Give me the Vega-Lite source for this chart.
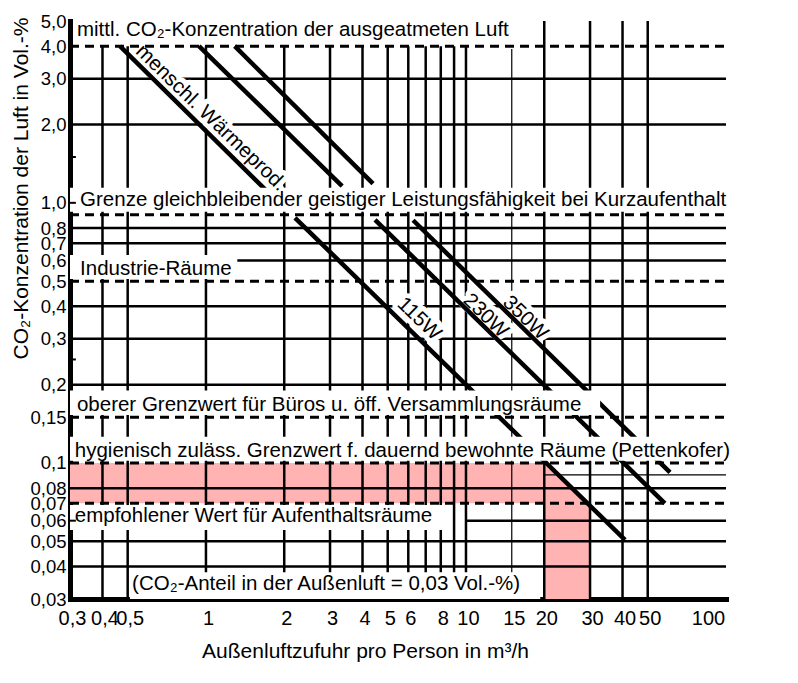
{
  "$schema": "https://vega.github.io/schema/vega-lite/v6.json",
  "width": 656,
  "height": 578,
  "autosize": {"type": "none"},
  "padding": {"left": 70, "top": 21, "right": 72, "bottom": 84},
  "background": "white",
  "config": {
    "view": {"stroke": null},
    "axis": {"domainCap": "square", "domainColor": "black", "labelColor": "black", "titleColor": "black", "zindex": 1}
  },
  "datasets": {
    "pinkRects": [
      {"x": 0.3, "x2": 20, "y": 0.07, "y2": 0.1},
      {"x": 20, "x2": 30, "y": 0.03, "y2": 0.07}
    ],
    "pinkTri": [
      {"x": 20, "y": 0.1, "y2": 0.066},
      {"x": 30, "y": 0.069, "y2": 0.066}
    ],
    "hgrid": [
      {"y": 3, "x": 0.3, "x2": 100},
      {"y": 2, "x": 0.3, "x2": 100},
      {"y": 0.8, "x": 0.3, "x2": 100},
      {"y": 0.7, "x": 0.3, "x2": 100},
      {"y": 0.6, "x": 0.3, "x2": 100},
      {"y": 0.4, "x": 0.3, "x2": 100},
      {"y": 0.3, "x": 0.3, "x2": 100},
      {"y": 0.2, "x": 0.3, "x2": 100},
      {"y": 0.08, "x": 0.3, "x2": 100},
      {"y": 0.06, "x": 10, "x2": 100},
      {"y": 0.05, "x": 0.3, "x2": 100},
      {"y": 0.04, "x": 0.3, "x2": 100}
    ],
    "hthin": [
      {"y": 0.09, "x": 20, "x2": 100}
    ],
    "vgrid": [
      {"x": 0.4, "y": 0.03, "y2": 4},
      {"x": 0.5, "y": 0.03, "y2": 4},
      {"x": 1, "y": 0.03, "y2": 4},
      {"x": 2, "y": 0.03, "y2": 4},
      {"x": 3, "y": 0.03, "y2": 4},
      {"x": 4, "y": 0.03, "y2": 4},
      {"x": 5, "y": 0.03, "y2": 4},
      {"x": 6, "y": 0.03, "y2": 4},
      {"x": 7, "y": 0.03, "y2": 4},
      {"x": 8, "y": 0.03, "y2": 4},
      {"x": 9, "y": 0.03, "y2": 4},
      {"x": 10, "y": 0.03, "y2": 4},
      {"x": 20, "y": 0.03, "y2": 5},
      {"x": 30, "y": 0.03, "y2": 5},
      {"x": 40, "y": 0.03, "y2": 5},
      {"x": 50, "y": 0.03, "y2": 5}
    ],
    "vthin": [
      {"x": 15, "y": 0.03, "y2": 3.9}
    ],
    "diag": [
      {"x": 0.467, "y": 4, "x2": 1.73, "y2": 1.1},
      {"x": 0.94, "y": 4, "x2": 3.34, "y2": 1.16},
      {"x": 1.29, "y": 4, "x2": 4.39, "y2": 1.185},
      {"x": 2.2, "y": 0.876, "x2": 40.9, "y2": 0.0506},
      {"x": 4.47, "y": 0.86, "x2": 58.2, "y2": 0.07},
      {"x": 6.26, "y": 0.857, "x2": 60.9, "y2": 0.092}
    ],
    "masks": [
      {"x": 0.3, "x2": 100, "y": 0.924, "y2": 1.143},
      {"x": 0.3, "x2": 1.32, "y": 0.51, "y2": 0.63},
      {"x": 0.3, "x2": 32.8, "y": 0.153, "y2": 0.19},
      {"x": 0.3, "x2": 100, "y": 0.102, "y2": 0.126},
      {"x": 0.3, "x2": 8.6, "y": 0.0553, "y2": 0.0689},
      {"x": 0.51, "x2": 19.3, "y": 0.03, "y2": 0.038}
    ],
    "dashed": [
      {"y": 4, "x": 0.3, "x2": 100},
      {"y": 0.9, "x": 0.3, "x2": 100},
      {"y": 0.5, "x": 0.3, "x2": 100},
      {"y": 0.15, "x": 0.3, "x2": 100},
      {"y": 0.1, "x": 0.3, "x2": 100},
      {"y": 0.07, "x": 0.3, "x2": 100}
    ],
    "ticks": [
      {"y": 1.5, "x": 0.3, "x2": 0.316},
      {"y": 1, "x": 0.3, "x2": 0.316},
      {"y": 0.25, "x": 0.3, "x2": 0.316},
      {"y": 0.06, "x": 0.3, "x2": 0.316}
    ],
    "rotLabels": [
      {"x": 1.045, "y": 2.12, "text": "menschl. Wärmeprod."},
      {"x": 6.6, "y": 0.358, "text": "115W"},
      {"x": 11.9, "y": 0.368, "text": "230W"},
      {"x": 16.9, "y": 0.361, "text": "350W"}
    ],
    "labels": [
      {"x": 0.319, "y": 4.39, "text": "mittl. CO₂-Konzentration der ausgeatmeten Luft"},
      {"x": 0.328, "y": 0.974, "text": "Grenze gleichbleibender geistiger Leistungsfähigkeit bei Kurzaufenthalt"},
      {"x": 0.328, "y": 0.529, "text": "Industrie-Räume"},
      {"x": 0.319, "y": 0.158, "text": "oberer Grenzwert für Büros u. öff. Versammlungsräume"},
      {"x": 0.313, "y": 0.1058, "text": "hygienisch zuläss. Grenzwert f. dauernd bewohnte Räume (Pettenkofer)"},
      {"x": 0.313, "y": 0.0595, "text": "empfohlener Wert für Aufenthaltsräume"},
      {"x": 0.52, "y": 0.0325, "text": "(CO₂-Anteil in der Außenluft = 0,03 Vol.-%)"}
    ]
  },
  "encoding": {
    "x": {
      "field": "x", "type": "quantitative",
      "scale": {"type": "log", "domain": [0.3, 100], "nice": false},
      "axis": {
        "values": [0.3, 0.4, 0.5, 1, 2, 3, 4, 5, 6, 8, 10, 15, 20, 30, 40, 50, 100],
        "labelExpr": "replace(format(datum.value, '~g'), '.', ',')",
        "grid": false, "ticks": false, "domainWidth": 5,
        "labelFont": "Liberation Sans", "labelFontSize": 20, "labelPadding": 9,
        "labelOffset": {"condition": {"test": "datum.value == 100", "value": -18}, "value": 2},
        "labelOverlap": false, "labelFlush": false, "labelBound": false,
        "title": "Außenluftzufuhr pro Person in m³/h",
        "titleFont": "Liberation Sans", "titleFontSize": 21, "titleFontWeight": "normal",
        "titleX": 295, "titleY": 58, "titleBaseline": "alphabetic", "titleAlign": "center"
      }
    },
    "y": {
      "field": "y", "type": "quantitative",
      "scale": {"type": "log", "domain": [0.03, 5], "nice": false},
      "axis": {
        "values": [5, 4, 3, 2, 1, 0.8, 0.7, 0.6, 0.5, 0.4, 0.3, 0.2, 0.15, 0.1, 0.08, 0.07, 0.06, 0.05, 0.04, 0.03],
        "labelExpr": "datum.value >= 1 ? replace(format(datum.value, '.1f'), '.', ',') : replace(format(datum.value, '~g'), '.', ',')",
        "grid": false, "ticks": false, "domainWidth": 5,
        "labelFont": "Liberation Sans", "labelFontSize": 18.5, "labelPadding": 4,
        "labelOverlap": false, "labelFlush": false, "labelBound": false,
        "title": "CO₂-Konzentration der Luft in Vol.-%",
        "titleFont": "Liberation Sans", "titleFontSize": 21, "titleFontWeight": "normal",
        "titleX": -43, "titleY": 167, "titleBaseline": "alphabetic", "titleAlign": "center", "titleAngle": 270
      }
    }
  },
  "layer": [
    {
      "data": {"name": "pinkRects"},
      "mark": {"type": "rect", "fill": "#ffb3b3", "stroke": null},
      "encoding": {"x2": {"field": "x2"}, "y2": {"field": "y2"}}
    },
    {
      "data": {"name": "pinkTri"},
      "mark": {"type": "area", "fill": "#ffb3b3", "stroke": null},
      "encoding": {"y2": {"field": "y2"}}
    },
    {
      "data": {"name": "hgrid"},
      "mark": {"type": "rule", "color": "black", "strokeWidth": 2.5},
      "encoding": {"x2": {"field": "x2"}}
    },
    {
      "data": {"name": "hthin"},
      "mark": {"type": "rule", "color": "black", "strokeWidth": 1.2},
      "encoding": {"x2": {"field": "x2"}}
    },
    {
      "data": {"name": "vgrid"},
      "mark": {"type": "rule", "color": "black", "strokeWidth": 2.5},
      "encoding": {"y2": {"field": "y2"}}
    },
    {
      "data": {"name": "vthin"},
      "mark": {"type": "rule", "color": "black", "strokeWidth": 1.2},
      "encoding": {"y2": {"field": "y2"}}
    },
    {
      "data": {"name": "rotLabels"},
      "mark": {"type": "text", "angle": 44, "align": "center", "baseline": "middle", "font": "Liberation Sans", "fontSize": 20.5, "fill": "white", "stroke": "white", "strokeWidth": 10, "strokeJoin": "round"},
      "encoding": {"text": {"field": "text"}}
    },
    {
      "data": {"name": "diag"},
      "mark": {"type": "rule", "color": "black", "strokeWidth": 4.5, "strokeCap": "butt"},
      "encoding": {"x2": {"field": "x2"}, "y2": {"field": "y2"}}
    },
    {
      "data": {"name": "masks"},
      "mark": {"type": "rect", "fill": "white", "stroke": null},
      "encoding": {"x2": {"field": "x2"}, "y2": {"field": "y2"}}
    },
    {
      "data": {"name": "dashed"},
      "mark": {"type": "rule", "color": "black", "strokeWidth": 3, "strokeDash": [9, 6], "strokeCap": "butt"},
      "encoding": {"x2": {"field": "x2"}}
    },
    {
      "data": {"name": "ticks"},
      "mark": {"type": "rule", "color": "black", "strokeWidth": 2},
      "encoding": {"x2": {"field": "x2"}}
    },
    {
      "data": {"name": "rotLabels"},
      "mark": {"type": "text", "angle": 44, "align": "center", "baseline": "middle", "font": "Liberation Sans", "fontSize": 20.5, "fill": "black"},
      "encoding": {"text": {"field": "text"}}
    },
    {
      "data": {"name": "labels"},
      "mark": {"type": "text", "align": "left", "baseline": "alphabetic", "font": "Liberation Sans", "fontSize": 20.5, "fill": "black"},
      "encoding": {"text": {"field": "text"}}
    }
  ]
}
